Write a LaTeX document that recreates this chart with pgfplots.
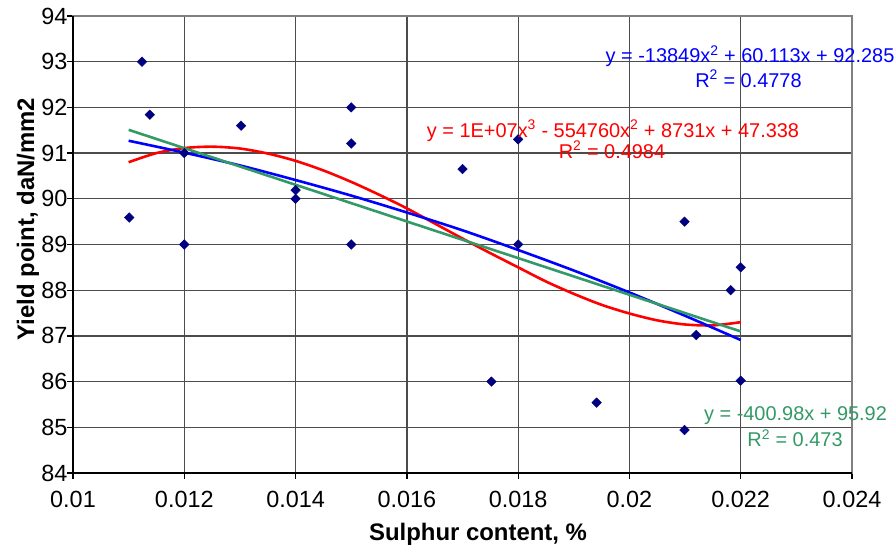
\documentclass[border=0pt]{standalone}
\usepackage{pgfplots}
\pgfplotsset{compat=1.18}
\usepackage{fontspec}
\setmainfont{Liberation Sans}
\definecolor{navy}{HTML}{000080}
\definecolor{sgreen}{HTML}{339966}
\definecolor{tblue}{HTML}{0000FF}
\definecolor{tred}{HTML}{FF0000}
\begin{document}
\begin{tikzpicture}[x=1bp,y=1bp]
\path[use as bounding box] (0,0) rectangle (896,547);
\begin{axis}[at={(73bp,74bp)}, anchor=south west, scale only axis,
  width=779bp, height=457bp,
  xmin=0.01, xmax=0.024, ymin=84, ymax=94,
  scaled x ticks=false, scaled y ticks=false,
  xtick={0.01,0.012,0.014,0.016,0.018,0.02,0.022,0.024},
  xticklabels={0.01,0.012,0.014,0.016,0.018,0.02,0.022,0.024},
  ytick={84,85,86,87,88,89,90,91,92,93,94},
  yticklabels={84,85,86,87,88,89,90,91,92,93,94},
  grid=major, major grid style={black!70, line width=1.3bp},
  tick align=outside, tick pos=left, major tick length=6bp,
  tick style={black, line width=1.3bp},
  axis line style={gray, line width=1.4bp},
  tick label style={font=\fontsize{23.5}{27}\selectfont},
  xticklabel style={yshift=-9bp}, yticklabel style={xshift=4bp},
  clip=false,
]
\draw[black, line width=1.4bp] (rel axis cs:0,1) -- (rel axis cs:0,0) -- (rel axis cs:1,0);
\addplot[only marks, mark=square*, mark size=3.4bp, mark options={rotate=45, fill=navy, draw=navy}] coordinates {
(0.01101,89.59) (0.01124,93.00) (0.01138,91.84) (0.0120,91.00) (0.0120,89.00)
(0.01302,91.60) (0.0140,90.19) (0.0140,90.00) (0.0150,92.00) (0.0150,91.21)
(0.0150,89.00) (0.0170,90.65) (0.0180,91.30) (0.0180,89.00) (0.01752,86.00)
(0.01941,85.54) (0.02099,89.50) (0.02099,84.94) (0.0212,87.02) (0.02182,88.00)
(0.0220,88.50) (0.0220,86.02)
};
\addplot[tred, line width=2.6bp, smooth] coordinates {
(0.011,90.80) (0.0115,91.00) (0.012,91.11) (0.0125,91.14) (0.013,91.10)
(0.0135,90.99) (0.014,90.83) (0.0145,90.62) (0.015,90.37) (0.0155,90.09)
(0.016,89.79) (0.0165,89.46) (0.017,89.13) (0.0175,88.81) (0.018,88.50)
(0.0185,88.19) (0.019,87.92) (0.0195,87.68) (0.020,87.49) (0.0205,87.34)
(0.021,87.25) (0.0215,87.23) (0.022,87.30)
};
\addplot[tblue, line width=2.6bp, smooth] coordinates {
(0.011,91.27) (0.012,91.01) (0.013,90.73) (0.014,90.41) (0.015,90.07)
(0.016,89.70) (0.017,89.31) (0.018,88.88) (0.019,88.43) (0.020,87.95)
(0.021,87.44) (0.022,86.91)
};
\addplot[sgreen, line width=2.6bp] coordinates {(0.011,91.509) (0.022,87.098)};
\end{axis}
\node[anchor=base, font=\fontsize{24}{28}\selectfont\bfseries] at (478,6.5) {Sulphur content, \%};
\node[anchor=base, rotate=90, font=\fontsize{24}{28}\selectfont\bfseries] at (34,328) {Yield point, daN/mm2};
\begin{scope}[every node/.style={anchor=base, font=\fontsize{20}{24}\selectfont, inner sep=0pt}]
\node[text=tblue] at (750,484) {y = -13849x\textsuperscript{2} + 60.113x + 92.285};
\node[text=tblue] at (748.5,459.5) {R\textsuperscript{2} = 0.4778};
\node[text=tred] at (613,409.5) {y = 1E+07x\textsuperscript{3} - 554760x\textsuperscript{2} + 8731x + 47.338};
\node[text=tred] at (612,388.5) {R\textsuperscript{2} = 0.4984};
\node[text=sgreen] at (795.5,126.3) {y = -400.98x + 95.92};
\node[text=sgreen] at (795,100.3) {R\textsuperscript{2} = 0.473};
\end{scope}
\end{tikzpicture}
\end{document}
